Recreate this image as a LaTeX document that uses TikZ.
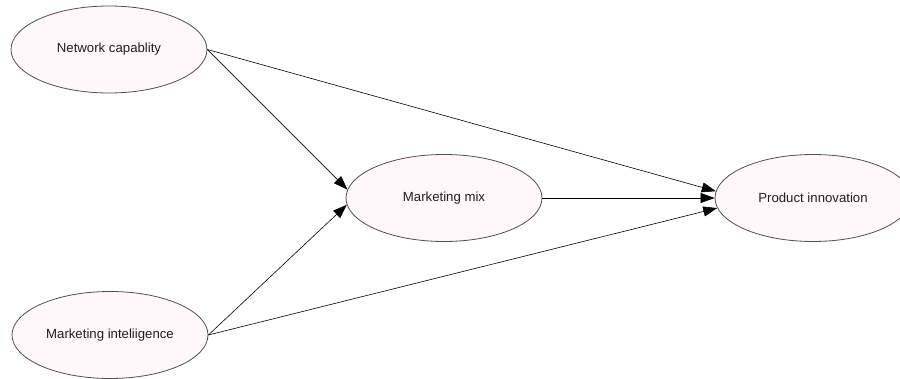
\documentclass[tikz,border=0pt]{standalone}
\usepackage{fontspec}
\setmainfont{Liberation Sans}
\usetikzlibrary{shapes.geometric,arrows.meta}
\definecolor{nodefill}{HTML}{FFF7F9}
\definecolor{edgegray}{HTML}{505050}
\tikzset{
  construct/.style={ellipse, draw=edgegray, fill=nodefill, line width=0.8pt,
    minimum width=196pt, minimum height=87pt, inner sep=0pt,
    font=\fontsize{13.2}{15}\selectfont, text=black!88},
  link/.style={draw=black, line width=0.6pt, -{Triangle[length=14pt,width=10pt]}}
}
\begin{document}
\begin{tikzpicture}[x=1pt,y=-1pt]
\useasboundingbox (0,0) rectangle (900,379);
\begin{scope}
\clip (0,0) rectangle (900,379);
\node[construct] (nc) at (109,49.5) {Network capablity};
\node[construct] (mm) at (444,198) {Marketing mix};
\node[construct] (pi) at (813,198) {Product innovation};
\node[construct] (mi) at (110,335) {Marketing inteliigence};
\end{scope}
\draw[link] (nc.east) -- (mm.175);
\draw[link] (nc.east) -- (pi.176);
\draw[link] (mm.east) -- (pi.west);
\draw[link] (mi.east) -- (mm.184);
\draw[link] (mi.east) -- (pi.186);
\end{tikzpicture}
\end{document}
